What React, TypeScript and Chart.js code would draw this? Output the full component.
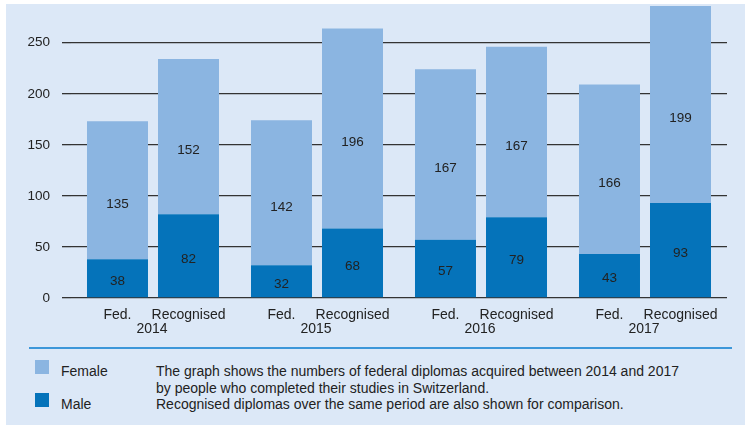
import { useEffect, useRef } from 'react';
import { Chart, registerables } from 'chart.js';

Chart.register(...registerables);

const years = ['2014', '2015', '2016', '2017'];
const typeLabels = ['Fed.', 'Recognised'];
const fedMale = [38, 32, 57, 43];
const fedFemale = [135, 142, 167, 166];
const recMale = [82, 68, 79, 93];
const recFemale = [152, 196, 167, 199];
const legendLabels = ['Female', 'Male'];
const noteLines = [
  'The graph shows the numbers of federal diplomas acquired between 2014 and 2017',
  'by people who completed their studies in Switzerland.',
  'Recognised diplomas over the same period are also shown for comparison.',
];

const FEMALE = '#8bb5e1';
const MALE = '#0573ba';
const TEXT = '#222222';
const FONT = '"Liberation Sans", Arial, Helvetica, sans-serif';

export default function App() {
  const ref = useRef<HTMLCanvasElement>(null);

  useEffect(() => {
    document.body.style.margin = '0';
    const labelPlugin = {
      id: 'valueLabels',
      afterDatasetsDraw(chart: any) {
        const ctx = chart.ctx;
        ctx.save();
        ctx.font = `13.5px ${FONT}`;
        ctx.fillStyle = TEXT;
        ctx.textAlign = 'center';
        ctx.textBaseline = 'middle';
        chart.data.datasets.forEach((ds: any, di: number) => {
          const meta = chart.getDatasetMeta(di);
          const female = ds.label.indexOf('Female') >= 0;
          meta.data.forEach((el: any, i: number) => {
            const p = el.getProps(['x', 'y', 'base'], true);
            const top = Math.max(p.y, chart.chartArea.top);
            const cy = (top + p.base) / 2 + (female ? 14 : 3);
            ctx.fillText(String(ds.data[i]), p.x, cy);
          });
        });
        // category labels
        const bottom = chart.chartArea.bottom;
        const m0 = chart.getDatasetMeta(0);
        const m2 = chart.getDatasetMeta(2);
        ctx.font = `14px ${FONT}`;
        years.forEach((yr, i) => {
          const x0 = m0.data[i].x;
          const x2 = m2.data[i].x;
          ctx.fillText(typeLabels[0], x0, bottom + 17);
          ctx.fillText(typeLabels[1], x2, bottom + 17);
          ctx.fillText(yr, (x0 + x2) / 2 - 1, bottom + 31);
        });
        ctx.restore();
      },
    };

    const chart = new Chart(ref.current!, {
      type: 'bar',
      data: {
        labels: years,
        datasets: [
          { label: 'Fed. Male', data: fedMale, backgroundColor: MALE, stack: 'fed' },
          { label: 'Fed. Female', data: fedFemale, backgroundColor: FEMALE, stack: 'fed' },
          { label: 'Recognised Male', data: recMale, backgroundColor: MALE, stack: 'rec' },
          { label: 'Recognised Female', data: recFemale, backgroundColor: FEMALE, stack: 'rec' },
        ],
      },
      options: {
        responsive: false,
        animation: false,
        layout: { padding: { left: 0, top: 6, right: 18, bottom: 47 } },
        categoryPercentage: 0.866,
        barPercentage: 0.859,
        plugins: { legend: { display: false }, tooltip: { enabled: false } },
        scales: {
          x: { display: false, stacked: true },
          y: {
            stacked: true,
            min: 0,
            max: 286,
            border: { display: false },
            grid: { color: '#333333', lineWidth: 1.3, drawTicks: true, tickLength: 9 },
            ticks: { stepSize: 50, color: TEXT, padding: 12, font: { size: 13.5, family: FONT } },
            afterBuildTicks: (scale: any) => {
              scale.ticks = scale.ticks.filter((t: any) => t.value % 50 === 0);
            },
            afterFit: (scale: any) => {
              scale.width = 71;
              scale.paddingTop = 0;
              scale.paddingBottom = 0;
            },
          },
        },
      } as any,
      plugins: [labelPlugin],
    });
    return () => chart.destroy();
  }, []);

  const textStyle: any = {
    position: 'absolute',
    fontFamily: FONT,
    fontSize: 14,
    lineHeight: '16.5px',
    color: TEXT,
    whiteSpace: 'nowrap',
  };

  return (
    <div style={{ position: 'relative', width: 745, height: 425, background: '#ffffff', overflow: 'hidden' }}>
      <div style={{ position: 'absolute', left: 6, top: 4, right: 0, bottom: 0, background: '#dce8f7' }} />
      <canvas ref={ref} width={745} height={345} style={{ position: 'absolute', left: 0, top: 0 }} />
      <div style={{ position: 'absolute', left: 29, top: 347, width: 703, height: 2, background: '#3d97d9' }} />
      <div style={{ position: 'absolute', left: 35, top: 360, width: 14, height: 14, background: FEMALE }} />
      <div style={{ position: 'absolute', left: 35, top: 393, width: 14, height: 14, background: MALE }} />
      <div style={{ ...textStyle, left: 61, top: 363 }}>{legendLabels[0]}</div>
      <div style={{ ...textStyle, left: 61, top: 396 }}>{legendLabels[1]}</div>
      <div style={{ ...textStyle, left: 156, top: 363 }}>
        {noteLines.map((l, i) => (
          <div key={i}>{l}</div>
        ))}
      </div>
    </div>
  );
}
